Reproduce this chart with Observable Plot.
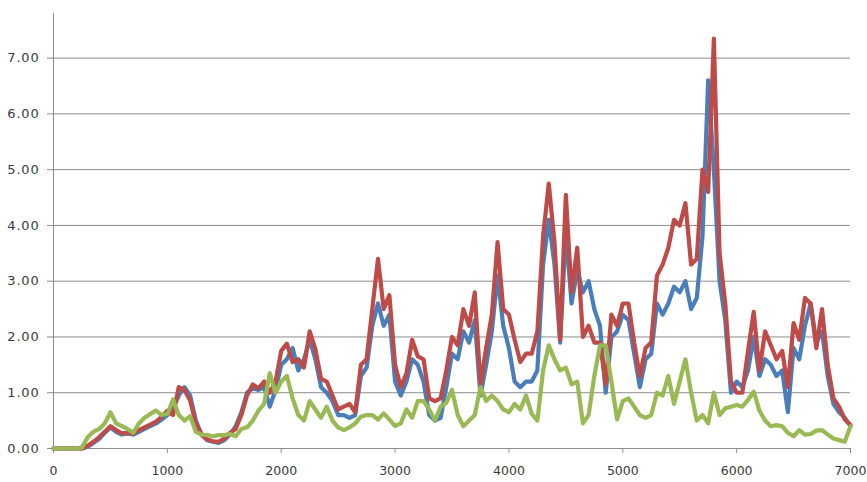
<!DOCTYPE html>
<html>
<head>
<meta charset="utf-8">
<script src="https://cdn.jsdelivr.net/npm/d3@7"></script>
<script src="https://cdn.jsdelivr.net/npm/@observablehq/plot@0.6"></script>
<style>
  html, body { margin: 0; padding: 0; background: #fff; }
  #chart svg { display: block; }
  #chart svg [aria-label="y-axis tick label"] text { letter-spacing: 0.8px; }
  #chart svg [aria-label="x-axis tick label"] text { letter-spacing: 0; }
</style>
</head>
<body>
<div id="chart"></div>
<script>
// sample positions along x (every 50 units)
const step = 50;
const xTicks = [0, 1000, 2000, 3000, 4000, 5000, 6000, 7000];
const yTicks = [0, 1, 2, 3, 4, 5, 6, 7];

const blueSeries = [
  0,0,0,0,0,0,0.03,0.1,0.17,0.28,
  0.38,0.3,0.25,0.27,0.25,0.3,0.35,0.4,0.45,0.52,
  0.6,0.7,0.95,1.1,0.95,0.5,0.25,0.15,0.12,0.1,
  0.15,0.25,0.4,0.65,1.0,1.08,1.05,1.1,0.75,1.05,
  1.5,1.6,1.8,1.4,1.6,1.95,1.6,1.1,1.0,0.85,
  0.6,0.6,0.55,0.6,1.3,1.45,2.2,2.6,2.2,2.4,
  1.2,0.95,1.2,1.6,1.5,1.2,0.6,0.5,0.55,1.1,
  1.7,1.6,2.1,1.9,2.3,0.95,1.5,2.1,3.1,2.2,
  1.8,1.2,1.1,1.2,1.2,1.4,3.3,4.1,3.3,1.9,
  3.9,2.6,3.2,2.8,3.0,2.5,2.2,1.0,2.0,2.1,
  2.4,2.3,1.7,1.1,1.6,1.7,2.6,2.4,2.6,2.9,
  2.8,3.0,2.5,2.7,3.8,6.6,5.0,3.0,2.3,1.0,
  1.2,1.1,1.4,2.0,1.3,1.6,1.5,1.3,1.4,0.65,
  1.8,1.6,2.2,2.6,1.9,2.1,1.3,0.8,0.65,0.55,
  0.4
];

const redSeries = [
  0,0,0,0,0,0,0.05,0.12,0.2,0.3,
  0.4,0.33,0.27,0.28,0.27,0.33,0.38,0.43,0.48,0.57,
  0.68,0.6,1.1,1.05,0.86,0.45,0.25,0.16,0.13,0.12,
  0.18,0.28,0.35,0.6,0.95,1.15,1.08,1.2,1.0,1.2,
  1.75,1.88,1.55,1.6,1.45,2.1,1.78,1.25,1.2,0.95,
  0.7,0.75,0.8,0.65,1.5,1.6,2.5,3.4,2.5,2.75,
  1.5,1.1,1.35,1.95,1.65,1.6,0.9,0.85,0.9,1.4,
  2.0,1.85,2.5,2.2,2.8,1.15,1.8,2.4,3.7,2.5,
  2.4,1.95,1.55,1.7,1.7,2.1,3.8,4.75,3.7,1.95,
  4.55,2.8,3.6,2.0,2.2,1.9,1.9,1.15,2.4,2.2,
  2.6,2.6,1.9,1.3,1.8,1.9,3.1,3.3,3.6,4.1,
  4.0,4.4,3.3,3.4,5.0,4.6,7.35,3.5,2.6,1.2,
  1.0,1.0,1.75,2.45,1.4,2.1,1.85,1.6,1.75,1.1,
  2.25,1.95,2.7,2.6,1.8,2.5,1.5,0.9,0.75,0.52,
  0.42
];

const greenSeries = [
  0,0,0,0,0,0.02,0.2,0.3,0.35,0.45,
  0.65,0.45,0.4,0.35,0.28,0.45,0.55,0.62,0.68,0.6,
  0.62,0.88,0.6,0.5,0.58,0.3,0.25,0.24,0.22,0.24,
  0.24,0.26,0.22,0.35,0.38,0.5,0.68,0.8,1.35,1.0,
  1.2,1.3,0.9,0.6,0.5,0.85,0.7,0.55,0.75,0.5,
  0.38,0.33,0.38,0.45,0.57,0.6,0.6,0.52,0.63,0.52,
  0.4,0.45,0.7,0.55,0.85,0.85,0.7,0.5,0.75,0.82,
  1.05,0.6,0.4,0.5,0.6,1.1,0.85,0.95,0.85,0.7,
  0.65,0.8,0.7,0.95,0.62,0.5,1.4,1.85,1.6,1.4,
  1.45,1.15,1.2,0.45,0.6,1.3,1.85,1.85,1.2,0.52,
  0.85,0.9,0.75,0.6,0.55,0.6,1.0,0.95,1.3,0.8,
  1.2,1.6,1.0,0.5,0.6,0.45,1.0,0.6,0.72,0.75,
  0.78,0.75,0.87,1.02,0.68,0.5,0.4,0.42,0.4,0.28,
  0.22,0.33,0.25,0.26,0.32,0.33,0.25,0.18,0.15,0.12,
  0.4
];

const toRows = arr => arr.map((v, i) => ({x: i * step, y: v}));

const lineOpts = {x: "x", y: "y", strokeWidth: 4.2, strokeLinejoin: "round", strokeLinecap: "round"};

const chart = Plot.plot({
  width: 867,
  height: 482,
  marginLeft: 53,
  marginRight: 17,
  marginTop: 13,
  marginBottom: 34,
  style: {fontFamily: "'DejaVu Sans', sans-serif", fontSize: "13px", color: "#3a3a3a", background: "#fff"},
  x: {domain: [0, 7000]},
  y: {domain: [0, 7.8]},
  marks: [
    Plot.gridY(yTicks, {stroke: "#8c8c8c", strokeOpacity: 1, strokeWidth: 1}),
    Plot.axisY(yTicks, {tickSize: 6, tickPadding: 8, stroke: "#8c8c8c", tickFormat: d => d.toFixed(2), label: null, fill: "#3a3a3a"}),
    Plot.axisX(xTicks, {tickSize: 5, tickPadding: 13, stroke: "#8c8c8c", tickFormat: d => String(d), label: null, fill: "#3a3a3a", fontSize: 12.5}),
    Plot.ruleX([0], {stroke: "#8c8c8c", strokeWidth: 1}),
    Plot.ruleY([0], {stroke: "#8c8c8c", strokeWidth: 1}),
    Plot.line(toRows(blueSeries), {...lineOpts, stroke: "#4a7ebb"}),
    Plot.line(toRows(redSeries), {...lineOpts, stroke: "#be4b48"}),
    Plot.line(toRows(greenSeries), {...lineOpts, stroke: "#98b954"})
  ]
});
document.getElementById("chart").appendChild(chart);
</script>
</body>
</html>
